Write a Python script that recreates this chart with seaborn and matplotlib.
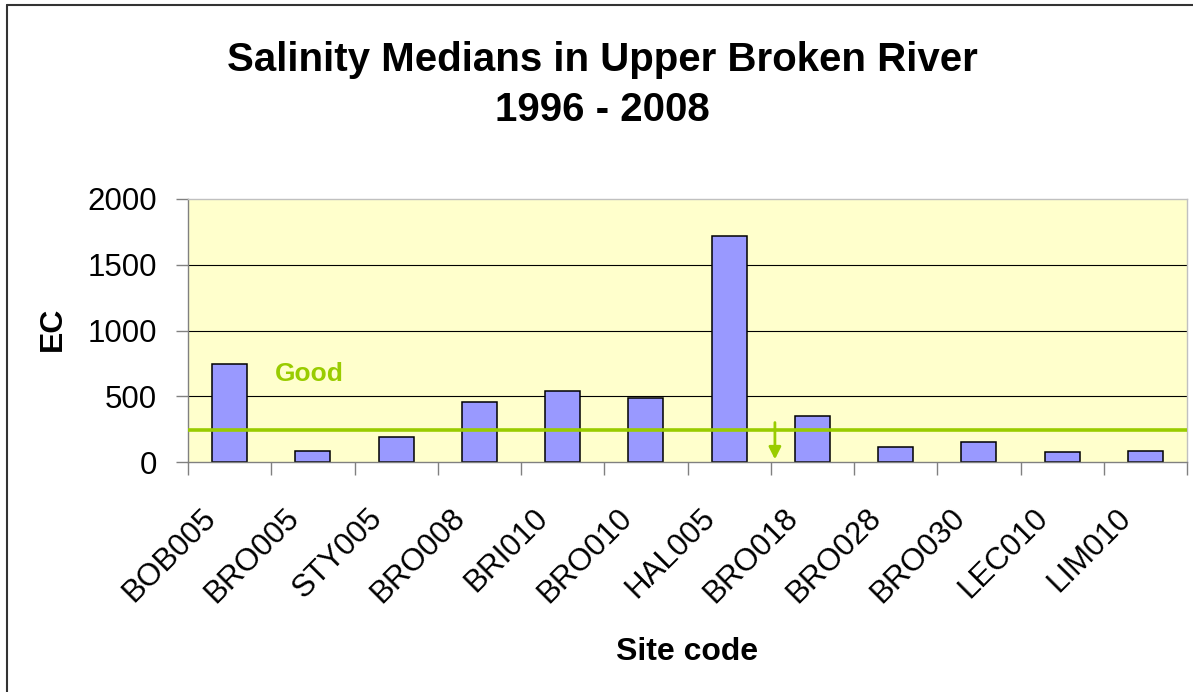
import numpy as np
import pandas as pd
import matplotlib
matplotlib.use('Agg')
import matplotlib.pyplot as plt
import matplotlib.transforms as mtransforms
from matplotlib.lines import Line2D
import seaborn as sns


# =============================================================================
# Data
# =============================================================================

sites = ['BOB005', 'BRO005', 'STY005', 'BRO008', 'BRI010', 'BRO010',
         'HAL005', 'BRO018', 'BRO028', 'BRO030', 'LEC010', 'LIM010']
ec_median = [745, 85, 190, 458, 542, 490, 1720, 350, 116, 150, 75, 84]

good_limit = 240
y_ticks = [0, 500, 1000, 1500, 2000]

df = pd.DataFrame({'Site': sites, 'EC': ec_median})

green = '#99CC00'


# =============================================================================
# Figure
# =============================================================================

sns.set_theme(style='white')
plt.rcParams['font.family'] = ['Liberation Sans', 'DejaVu Sans']
plt.rcParams['text.color'] = 'black'
plt.rcParams['axes.labelcolor'] = 'black'
plt.rcParams['xtick.labelcolor'] = 'black'
plt.rcParams['ytick.labelcolor'] = 'black'

W, H = 1193, 692
fig = plt.figure(figsize=(W / 100, H / 100), dpi=100)
ax = fig.add_axes([188 / W, 1 - 462 / H, 999 / W, 263 / H])

sns.barplot(
    data=df,
    x='Site',
    y='EC',
    color='#9999FF',
    saturation=1,
    edgecolor='black',
    linewidth=1.1,
    width=0.42,
    ax=ax
)

ax.set_facecolor('#FFFFCC')
ax.set_xlim(-0.5, len(sites) - 0.5)
ax.set_ylim(y_ticks[0], y_ticks[-1])
ax.set_yticks(y_ticks)

# horizontal grid, behind bars, not on the frame edges
ax.yaxis.grid(True, color='black', lw=0.8)
ax.set_axisbelow(True)
gl = ax.get_ygridlines()
gl[0].set_visible(False)
gl[-1].set_visible(False)

for side in ['left', 'bottom']:
    ax.spines[side].set_color('#808080')
    ax.spines[side].set_linewidth(1)
for side in ['top', 'right']:
    ax.spines[side].set_color('#C0C0C0')
    ax.spines[side].set_linewidth(1)

# ticks
ax.tick_params(axis='y', direction='out', length=9, width=1, color='#808080',
               pad=13.5, labelsize=22.5, left=True, labelcolor='black')
ax.set_xticks(np.arange(-0.5, len(sites), 1), minor=True)
ax.tick_params(axis='x', which='minor', direction='out', length=9, width=1,
               color='#808080', bottom=True)
ax.tick_params(axis='x', which='major', length=0, pad=37.3, labelsize=22.5,
               labelcolor='black')
ax.set_xticks(range(len(sites)))
ax.set_xticklabels(sites, rotation=45, ha='right', va='center',
                   rotation_mode='anchor')
shift = mtransforms.ScaledTranslation(-0.187, 0, fig.dpi_scale_trans)
for lab in ax.get_xticklabels():
    lab.set_transform(lab.get_transform() + shift)

# axis titles
ax.set_ylabel('EC', fontsize=23, fontweight='bold', color='black')
ax.yaxis.set_label_coords(-0.1206, 0.5057)
ax.set_xlabel('Site code', fontsize=23, fontweight='bold', color='black')
ax.xaxis.set_label_coords(0.4995, -0.664)

# guideline for "good" salinity
ax.axhline(good_limit, color=green, lw=2.6, zorder=3)
ax.text(0.545, 615, 'Good', color=green, fontsize=19, fontweight='bold',
        ha='left', va='baseline')
ax.annotate('', xy=(6.55, 20), xytext=(6.55, 300),
            arrowprops=dict(arrowstyle='-|>', color=green, lw=2,
                            mutation_scale=18, shrinkA=0, shrinkB=0))

# chart title
fig.text(602.5 / W, 1 - 71 / H, 'Salinity Medians in Upper Broken River',
         ha='center', va='baseline', fontsize=29, fontweight='bold',
         color='black')
fig.text(602.5 / W, 1 - 121 / H, '1996 - 2008',
         ha='center', va='baseline', fontsize=29, fontweight='bold',
         color='black')

# chart frame (left and top edges visible)
fig.add_artist(Line2D([7 / W, 7 / W], [0, 1 - 5 / H], transform=fig.transFigure,
                      color='#333333', lw=1.5))
fig.add_artist(Line2D([7 / W, 1], [1 - 5 / H, 1 - 5 / H], transform=fig.transFigure,
                      color='#333333', lw=1.5))

fig.savefig('out.png', dpi=100)
